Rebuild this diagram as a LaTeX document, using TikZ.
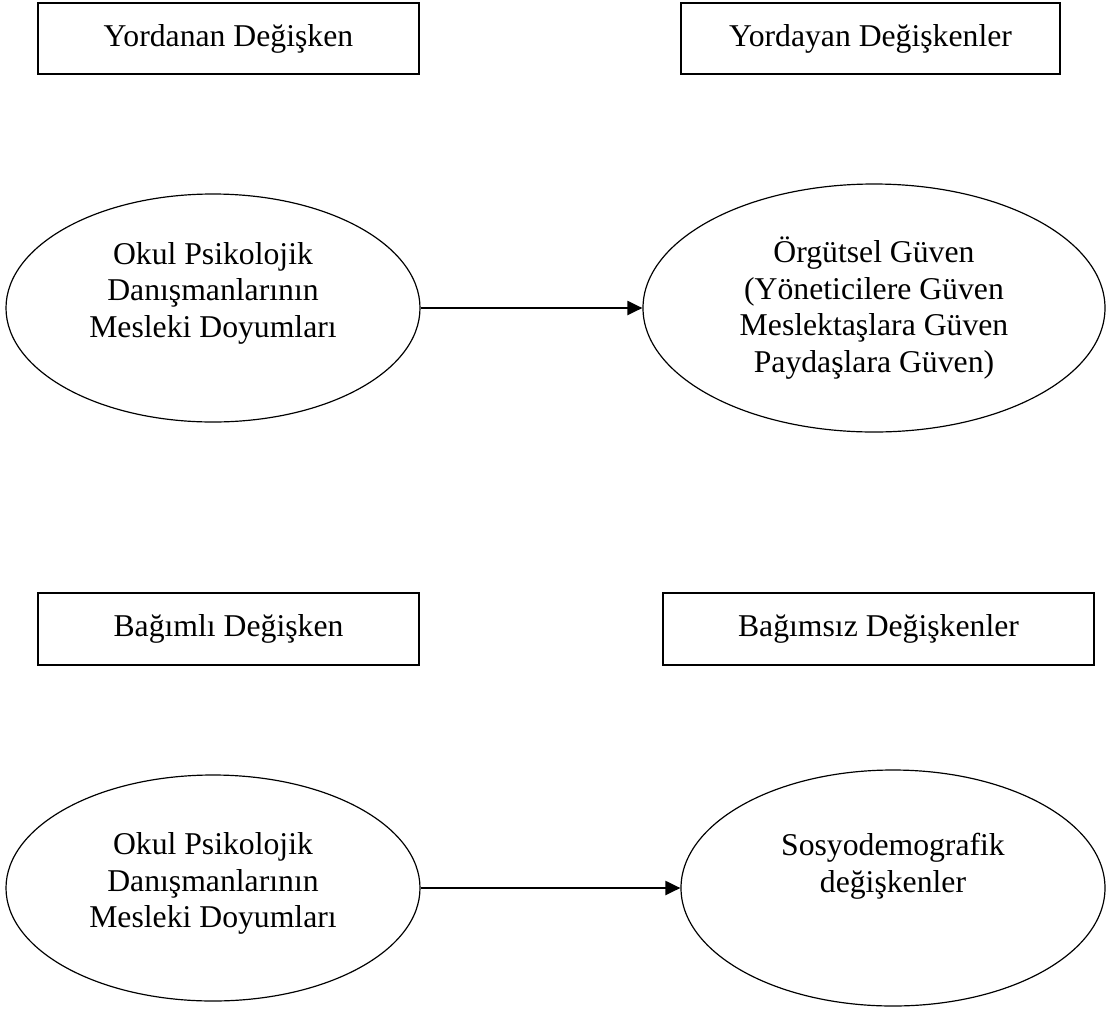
\documentclass[tikz,border=0pt]{standalone}
\usepackage{fontspec}
\setmainfont{Liberation Serif}
\usetikzlibrary{positioning,shapes.geometric,arrows.meta}
\def\pxu{0.3785pt}
% metni elips icinde yukari kaydir
\newcommand{\kaydir}[2]{\raisebox{#1}[\height][\depth]{\begin{tabular}{@{}c@{}}#2\end{tabular}}}

\begin{document}
\begin{tikzpicture}[
  x=\pxu, y=-\pxu,
  every node/.style={font=\fontsize{12}{13.8}\selectfont},
  kutu/.style={rectangle, draw, line width=0.5pt, inner sep=0pt,
               minimum width=381*\pxu, minimum height=71*\pxu, align=center},
  elips/.style={ellipse, draw, line width=0.45pt, inner sep=0pt,
                minimum width=414*\pxu, minimum height=228*\pxu, align=center},
  ok/.style={-{Triangle[length=15*\pxu, width=14*\pxu]}, line width=0.8pt}
]
  \useasboundingbox (0,0) rectangle (1107,1011);

  % ust bolum
  \node[kutu] (yordanan) at (228.5,38.5) {Yordanan Değişken};
  \node[kutu, minimum width=379*\pxu] (yordayan) at (870.5,38.5) {Yordayan Değişkenler};

  \node[elips] (doyum1) at (213,308)
    {\kaydir{5.5pt}{Okul Psikolojik\\Danışmanlarının\\Mesleki Doyumları}};
  \node[elips, minimum width=462*\pxu, minimum height=248*\pxu] (guven) at (874,308)
    {Örgütsel Güven\\(Yöneticilere Güven\\Meslektaşlara Güven\\Paydaşlara Güven)};

  \draw[ok] (doyum1) -- (guven);

  % alt bolum
  \node[kutu, minimum height=72*\pxu] (bagimli) at (228.5,629) {Bağımlı Değişken};
  \node[kutu, minimum width=431*\pxu, minimum height=72*\pxu] (bagimsiz) at (878.5,629) {Bağımsız Değişkenler};

  \node[elips, minimum height=226*\pxu] (doyum2) at (213,888)
    {\kaydir{1.5pt}{Okul Psikolojik\\Danışmanlarının\\Mesleki Doyumları}};
  \node[elips, minimum width=424*\pxu, minimum height=236*\pxu] (sosyo) at (893,888)
    {\kaydir{8pt}{Sosyodemografik\\değişkenler}};

  \draw[ok] (doyum2) -- (sosyo);
\end{tikzpicture}
\end{document}
